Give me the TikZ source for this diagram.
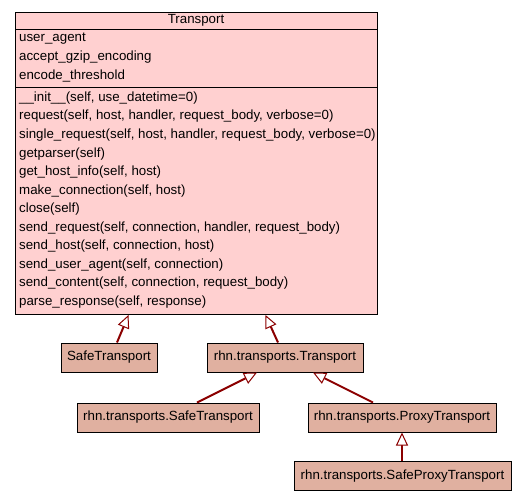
\documentclass[tikz,border=0pt]{standalone}
\usepackage{fontspec}
\setmainfont{Liberation Sans}
\usetikzlibrary{arrows.meta}
\definecolor{basefill}{RGB}{255,208,208}
\definecolor{subfill}{RGB}{224,176,160}
\definecolor{inherit}{RGB}{139,0,0}
\begin{document}
\begin{tikzpicture}[x=1pt,y=-1pt,
  font=\fontsize{13.3}{15}\selectfont,
  classbox/.style={draw=black, line width=1pt, fill=subfill, minimum height=29pt, inner sep=0pt},
  member/.style={anchor=west, inner sep=0pt},
  isa/.style={draw=inherit, line width=2pt,
    -{Triangle[open, length=13pt, width=12pt, line width=1pt, fill=white]}}]
\useasboundingbox (0,0) rectangle (527,501);

% base class with attribute and method compartments
\node[draw=black, line width=1pt, fill=basefill, anchor=north west,
      minimum width=362pt, minimum height=302pt, inner sep=0pt] (transport) at (15,12) {};
\draw[line width=1pt] (transport.west |- 0,29) -- (transport.east |- 0,29);
\draw[line width=1pt] (transport.west |- 0,87.5) -- (transport.east |- 0,87.5);
\node[inner sep=0pt] (title) at (196,20) {Transport};

\foreach \txt [count=\i from 0] in {user\_agent, accept\_gzip\_encoding, encode\_threshold}
  \node[member] (attr\i) at (19,{39+18.5*\i}) {\txt};

\foreach \txt [count=\i from 0] in {
  \_\_init\_\_(self{,} use\_datetime=0),
  request(self{,} host{,} handler{,} request\_body{,} verbose=0),
  single\_request(self{,} host{,} handler{,} request\_body{,} verbose=0),
  getparser(self),
  get\_host\_info(self{,} host),
  make\_connection(self{,} host),
  close(self),
  send\_request(self{,} connection{,} handler{,} request\_body),
  send\_host(self{,} connection{,} host),
  send\_user\_agent(self{,} connection),
  send\_content(self{,} connection{,} request\_body),
  parse\_response(self{,} response)}
  \node[member] (meth\i) at (19,{98+18.55*\i}) {\txt};

% subclasses
\node[classbox, minimum width=96pt]  (safe)      at (109,357.5) {SafeTransport};
\node[classbox, minimum width=156pt] (rhnT)      at (285,357.5) {rhn.transports.Transport};
\node[classbox, minimum width=182pt] (rhnSafe)   at (168,417.5) {rhn.transports.SafeTransport};
\node[classbox, minimum width=188pt] (rhnProxy)  at (402,417.5) {rhn.transports.ProxyTransport};
\node[classbox, minimum width=217pt] (rhnSProxy) at (402.5,476) {rhn.transports.SafeProxyTransport};

% inheritance edges
\draw[isa] ([xshift=8pt]safe.north)      -- ([xshift=-68pt]transport.south);
\draw[isa] ([xshift=-7pt]rhnT.north)     -- ([xshift=69pt]transport.south);
\draw[isa] ([xshift=29pt]rhnSafe.north)  -- ([xshift=-28pt]rhnT.south);
\draw[isa] ([xshift=-29pt]rhnProxy.north) -- ([xshift=28pt]rhnT.south);
\draw[isa] ([xshift=-0.5pt]rhnSProxy.north) -- (rhnProxy.south);
\end{tikzpicture}
\end{document}
